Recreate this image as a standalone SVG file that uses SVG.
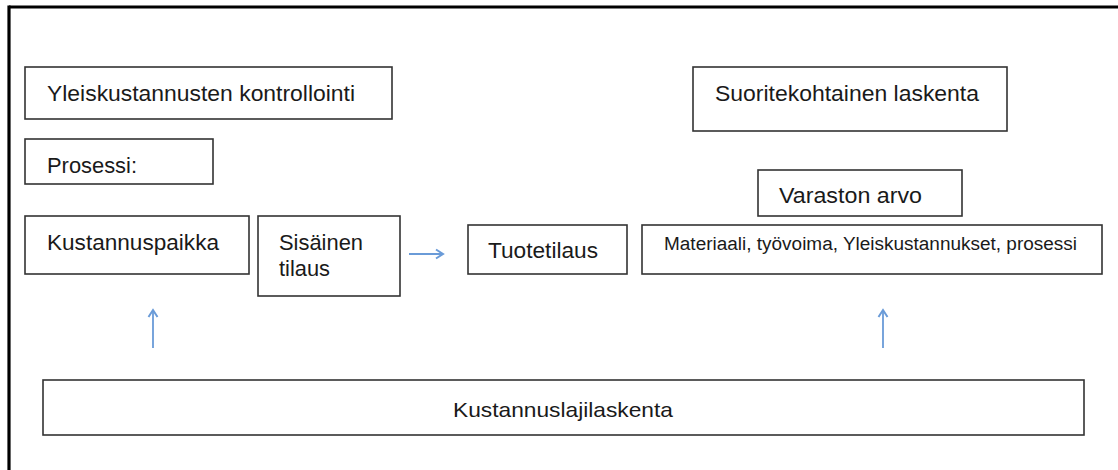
<svg xmlns="http://www.w3.org/2000/svg" width="1118" height="470" viewBox="0 0 1118 470">
<style>
.box{fill:#fff;stroke:#333;stroke-width:1.6}
.t{font-family:"Liberation Sans",Arial,sans-serif;font-size:22px;fill:#1a1a1a}
.c{stroke:#6a9bd8;stroke-width:1.8;fill:none}
</style>
<defs>
<marker id="ah" markerWidth="12" markerHeight="12" refX="10" refY="6" orient="auto" markerUnits="userSpaceOnUse">
<path d="M3,1.5 L10,6 L3,10.5" fill="none" stroke="#6a9bd8" stroke-width="2"/>
</marker>
</defs>
<rect width="1118" height="470" fill="#fff"/>
<g id="frame">
<line x1="9" y1="7" x2="1118" y2="7" stroke="#000" stroke-width="3.2"/>
<line x1="9" y1="5.5" x2="9" y2="470" stroke="#000" stroke-width="3.2"/>
</g>
<g id="n-yleis">
<rect class="box" x="25" y="67" width="367" height="52"/>
<text class="t" x="47" y="101" textLength="308" lengthAdjust="spacingAndGlyphs">Yleiskustannusten  kontrollointi</text>
</g>
<g id="n-prosessi">
<rect class="box" x="25" y="139" width="188" height="45"/>
<text class="t" x="47" y="173" textLength="90" lengthAdjust="spacingAndGlyphs">Prosessi:</text>
</g>
<g id="n-kustannuspaikka">
<rect class="box" x="25" y="216" width="224" height="58"/>
<text class="t" x="47" y="250" textLength="172" lengthAdjust="spacingAndGlyphs">Kustannuspaikka</text>
</g>
<g id="n-sisainen">
<rect class="box" x="258" y="216" width="142" height="80"/>
<text class="t" x="279" y="250" textLength="84" lengthAdjust="spacingAndGlyphs">Sisäinen</text>
<text class="t" x="279" y="276" textLength="51" lengthAdjust="spacingAndGlyphs">tilaus</text>
</g>
<g id="n-tuotetilaus">
<rect class="box" x="468" y="225" width="159" height="49"/>
<text class="t" x="488" y="258" textLength="110" lengthAdjust="spacingAndGlyphs">Tuotetilaus</text>
</g>
<g id="n-materiaali">
<rect class="box" x="642" y="225" width="460" height="49"/>
<text class="t" x="664" y="250" style="font-size:18px" textLength="413" lengthAdjust="spacingAndGlyphs">Materiaali, työvoima, Yleiskustannukset, prosessi</text>
</g>
<g id="n-suorite">
<rect class="box" x="693" y="67" width="314" height="64"/>
<text class="t" x="715" y="101" textLength="264" lengthAdjust="spacingAndGlyphs">Suoritekohtainen  laskenta</text>
</g>
<g id="n-varaston">
<rect class="box" x="758" y="170" width="204" height="46"/>
<text class="t" x="779" y="203" textLength="143" lengthAdjust="spacingAndGlyphs">Varaston  arvo</text>
</g>
<g id="n-kustannuslaji">
<rect class="box" x="43" y="380" width="1041" height="55"/>
<text class="t" x="453" y="417" style="font-size:21px" textLength="220" lengthAdjust="spacingAndGlyphs">Kustannuslajilaskenta</text>
</g>
<g id="connectors">
<line class="c" x1="409" y1="254" x2="443" y2="254" stroke="#8fb3e3" marker-end="url(#ah)"/>
<line class="c" x1="153" y1="348" x2="153" y2="310" marker-end="url(#ah)"/>
<line class="c" x1="883" y1="348" x2="883" y2="310" marker-end="url(#ah)"/>
</g>
</svg>
